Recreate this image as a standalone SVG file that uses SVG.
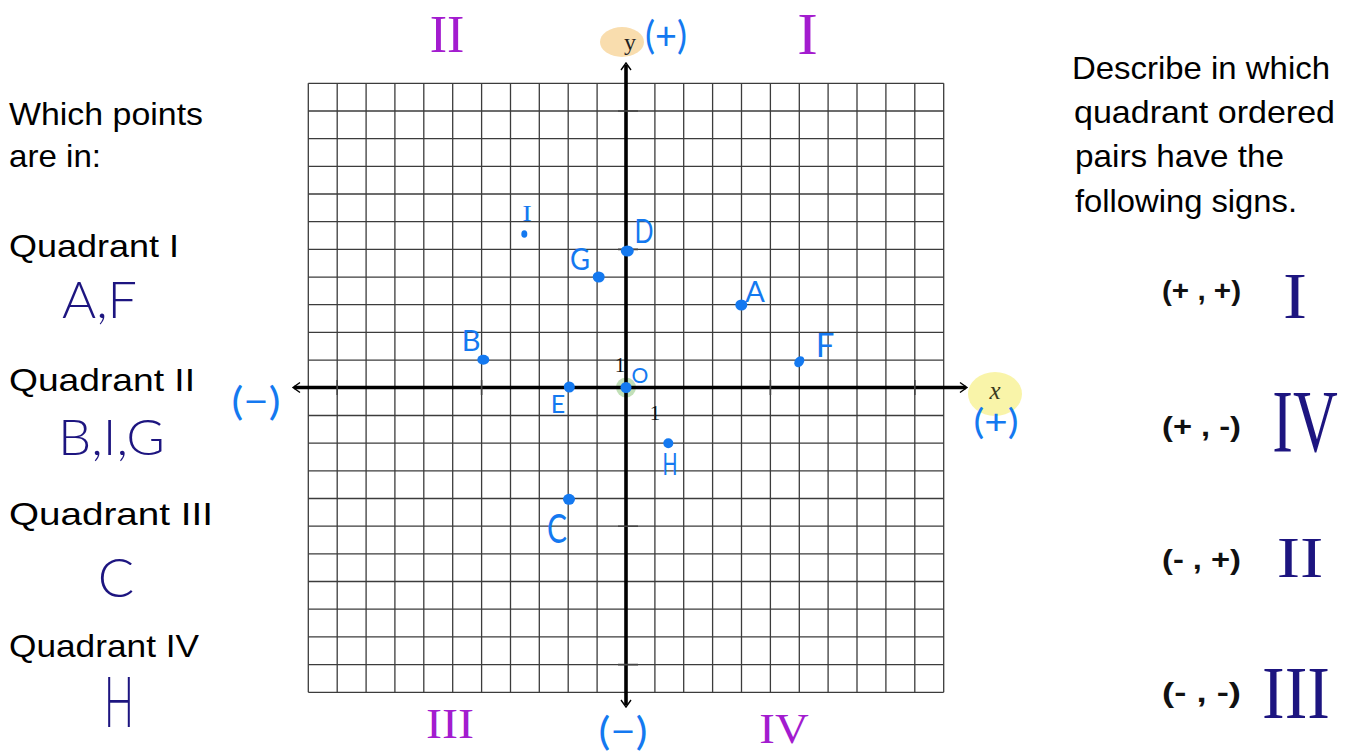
<svg xmlns="http://www.w3.org/2000/svg" width="1354" height="754" viewBox="0 0 1354 754">
<defs>
<style>
.grid{stroke:#3c3c3c;stroke-width:1.3;fill:none}
.axis{stroke:#000;stroke-width:3.6;fill:none}
.arrow{stroke:#000;stroke-width:1.4;fill:none}
.tick{stroke:#444;stroke-width:1.6}
.prompt{font-family:"Comic Sans MS","Liberation Sans",sans-serif;font-size:32px;fill:#000}
.sign{font-family:"Comic Sans MS","Liberation Sans",sans-serif;font-size:28px;font-weight:bold;fill:#111}
.hand{font-family:Lato,"Liberation Sans",sans-serif;font-weight:400}
.thin{font-weight:300}
.blue{fill:#1479f0}
.navy{fill:#1d1580}
.purple{fill:#a31ccf}
.roman{font-family:"Liberation Serif",serif;text-anchor:middle}
.pt{fill:#1479f0}
.num{font-family:"Liberation Serif",serif;font-size:21px;fill:#111}
</style>
</defs>
<rect width="1354" height="754" fill="#fff"/>

<g id="grid">
<path class="grid" d="M308.3,83.3V692.3M337.2,83.3V692.3M366.1,83.3V692.3M394.9,83.3V692.3M423.8,83.3V692.3M452.7,83.3V692.3M481.6,83.3V692.3M510.5,83.3V692.3M539.3,83.3V692.3M568.2,83.3V692.3M597.1,83.3V692.3M654.9,83.3V692.3M683.7,83.3V692.3M712.6,83.3V692.3M741.5,83.3V692.3M770.4,83.3V692.3M799.3,83.3V692.3M828.1,83.3V692.3M857,83.3V692.3M885.9,83.3V692.3M914.8,83.3V692.3M943.7,83.3V692.3"/>
<path class="grid" d="M308.3,83.3H943.7M308.3,111H943.7M308.3,138.7H943.7M308.3,166.3H943.7M308.3,194H943.7M308.3,221.7H943.7M308.3,249.4H943.7M308.3,277.1H943.7M308.3,304.7H943.7M308.3,332.4H943.7M308.3,360.1H943.7M308.3,415.5H943.7M308.3,443.1H943.7M308.3,470.8H943.7M308.3,498.5H943.7M308.3,526.2H943.7M308.3,553.9H943.7M308.3,581.5H943.7M308.3,609.2H943.7M308.3,636.9H943.7M308.3,664.6H943.7M308.3,692.3H943.7"/>
</g>

<g id="highlights">
<ellipse cx="622" cy="42" rx="22" ry="15" fill="#f8d49a" opacity="0.8"/>
<ellipse cx="995" cy="394" rx="27" ry="22" fill="#f8f29a" opacity="0.85"/>
<circle cx="626" cy="387.5" r="10" fill="#a8d39a" opacity="0.7"/>
</g>

<g id="axes">
<line class="axis" x1="294" y1="387.5" x2="966" y2="387.5"/>
<line class="axis" x1="626" y1="65" x2="626" y2="705"/>
<path class="arrow" d="M300,382.5L293,387.5L300,392.5M960,382.5L967,387.5L960,392.5M621,70L626,63L631,70M621,700L626,707L631,700"/>
<path class="tick" d="M337.2,380V395M481.6,380V395M770.4,380V395M914.8,380V395M618,111H638M618,249.4H638M618,526.2H638M618,664.6H638"/>
<text class="num" x="620" y="372" text-anchor="middle">1</text>
<text class="num" x="655" y="420" text-anchor="middle">1</text>
<text x="630" y="50" text-anchor="middle" font-family="Liberation Serif,serif" font-size="24" fill="#222">y</text>
<text x="995" y="399" text-anchor="middle" font-family="Liberation Serif,serif" font-style="italic" font-size="25" fill="#3a3a20">x</text>
</g>

<g id="axis-signs" class="hand blue" font-size="38">
<text x="666" y="49" text-anchor="middle" textLength="42" lengthAdjust="spacingAndGlyphs">(+)</text>
<text x="996" y="434" text-anchor="middle" font-size="35" textLength="45" lengthAdjust="spacingAndGlyphs">(+)</text>
<text x="256" y="415" text-anchor="middle" textLength="49" lengthAdjust="spacingAndGlyphs">(−)</text>
<text x="623" y="745" text-anchor="middle" textLength="49" lengthAdjust="spacingAndGlyphs">(−)</text>
</g>

<g id="quadrant-names" class="purple">
<text class="roman" font-size="26" transform="translate(447 52) scale(2 2)">II</text>
<text class="roman" font-size="28" transform="translate(807.5 54) scale(2.2 2.15)">I</text>
<text class="roman" font-size="24" transform="translate(450 738) scale(2 1.76)">III</text>
<text class="roman" font-size="24" transform="translate(784 743) scale(1.95 1.8)">IV</text>
</g>

<g id="point-A"><ellipse class="pt" cx="741.3" cy="305" rx="6" ry="5.5"/><text class="hand blue" x="755" y="302" font-size="29" text-anchor="middle">A</text></g>
<g id="point-B"><ellipse class="pt" cx="483.3" cy="359.7" rx="6" ry="5"/><text class="hand blue" x="471" y="351" font-size="29" text-anchor="middle">B</text></g>
<g id="point-C"><ellipse class="pt" cx="569" cy="499.3" rx="6" ry="5.5"/><text class="hand blue" x="557" y="543" font-size="40" text-anchor="middle" textLength="20" lengthAdjust="spacingAndGlyphs">C</text></g>
<g id="point-D"><ellipse class="pt" cx="627.3" cy="251" rx="6.5" ry="5.5"/><text class="hand blue" x="644" y="243" font-size="33" text-anchor="middle" textLength="19" lengthAdjust="spacingAndGlyphs">D</text></g>
<g id="point-E"><circle class="pt" cx="569.3" cy="387" r="5.5"/><text class="hand blue" x="558" y="413" font-size="25" text-anchor="middle">E</text></g>
<g id="point-F"><ellipse class="pt" cx="799.3" cy="361.7" rx="4.5" ry="6" transform="rotate(35 799.3 361.7)"/><text class="hand blue" x="825" y="357" font-size="33" text-anchor="middle">F</text></g>
<g id="point-G"><ellipse class="pt" cx="598.7" cy="277" rx="6" ry="5.5"/><text class="hand blue" x="580" y="270" font-size="30" text-anchor="middle" textLength="20" lengthAdjust="spacingAndGlyphs">G</text></g>
<g id="point-H"><circle class="pt" cx="668.3" cy="443.3" r="5"/><text class="hand blue" x="670" y="475" font-size="30" text-anchor="middle" textLength="15" lengthAdjust="spacingAndGlyphs">H</text></g>
<g id="point-I"><ellipse class="pt" cx="524.3" cy="234" rx="3" ry="3.8"/><text class="roman blue" font-size="16" transform="translate(527 221) scale(1.8 1.4)">I</text></g>
<g id="point-O"><circle class="pt" cx="626" cy="387.5" r="5.5"/><text class="hand blue" x="640" y="383" font-size="21" text-anchor="middle">O</text></g>

<g id="left-panel">
<text class="prompt" x="9" y="125" textLength="194" lengthAdjust="spacingAndGlyphs">Which points</text>
<text class="prompt" x="9" y="167" textLength="92" lengthAdjust="spacingAndGlyphs">are in:</text>
<text class="prompt" x="9" y="257" textLength="170" lengthAdjust="spacingAndGlyphs">Quadrant I</text>
<text class="prompt" x="9" y="391" textLength="186" lengthAdjust="spacingAndGlyphs">Quadrant II</text>
<text class="prompt" x="9" y="525" textLength="204" lengthAdjust="spacingAndGlyphs">Quadrant III</text>
<text class="prompt" x="9" y="657" textLength="190" lengthAdjust="spacingAndGlyphs">Quadrant IV</text>
<text class="hand thin navy" x="62" y="318" font-size="52" textLength="75" lengthAdjust="spacingAndGlyphs">A,F</text>
<text class="hand thin navy" x="58" y="455" font-size="50" textLength="107" lengthAdjust="spacingAndGlyphs">B,I,G</text>
<text class="hand thin navy" x="116" y="597" font-size="54" text-anchor="middle">C</text>
<text class="hand thin navy" x="119" y="727" font-size="70" text-anchor="middle" textLength="30" lengthAdjust="spacingAndGlyphs">H</text>
</g>

<g id="right-panel">
<text class="prompt" x="1072" y="79" textLength="258" lengthAdjust="spacingAndGlyphs">Describe in which</text>
<text class="prompt" x="1074" y="123" textLength="261" lengthAdjust="spacingAndGlyphs">quadrant ordered</text>
<text class="prompt" x="1075" y="167" textLength="209" lengthAdjust="spacingAndGlyphs">pairs have the</text>
<text class="prompt" x="1075" y="212" textLength="222" lengthAdjust="spacingAndGlyphs">following signs.</text>
<text class="sign" x="1162" y="300" textLength="79" lengthAdjust="spacingAndGlyphs">(+ , +)</text>
<text class="sign" x="1162" y="436" textLength="79" lengthAdjust="spacingAndGlyphs">(+ , -)</text>
<text class="sign" x="1162" y="569" textLength="79" lengthAdjust="spacingAndGlyphs">(- , +)</text>
<text class="sign" x="1162" y="702" textLength="79" lengthAdjust="spacingAndGlyphs">(- , -)</text>
<g class="navy">
<text class="roman" font-size="30" transform="translate(1295 318) scale(2.4 2.16)">I</text>
<text class="roman" font-size="40" transform="translate(1305 451) scale(1.55 2.2)">IV</text>
<text class="roman" font-size="28" transform="translate(1300 577) scale(2.5 2)">II</text>
<text class="roman" font-size="34" transform="translate(1296 718) scale(2 2.2)">III</text>
</g>
</g>
</svg>
